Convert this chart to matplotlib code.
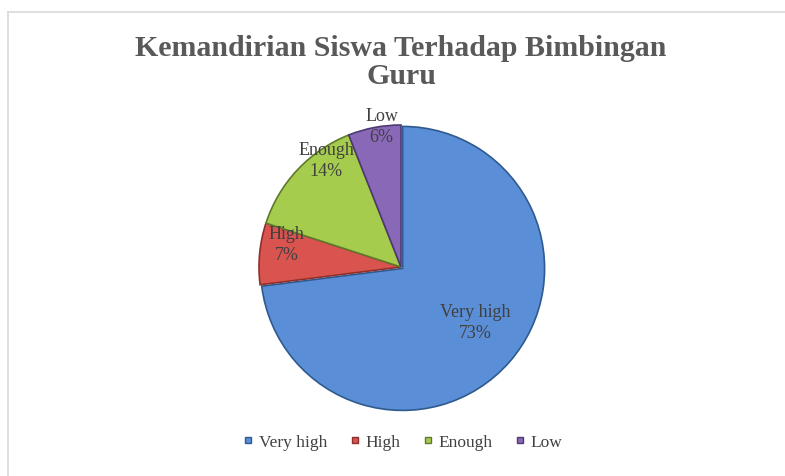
import numpy as np
import matplotlib.pyplot as plt
from matplotlib.lines import Line2D

# data
categories = ["Very high", "High", "Enough", "Low"]
percent = [73, 7, 14, 6]

colors = ["#5A8ED6", "#D9534F", "#A6CC4E", "#8A68B8"]
edges = ["#2F5A8F", "#8E2F2C", "#5F7A2A", "#4E3A70"]

# per-slice label tweaks (distance from center, angle shift in deg)
lab_dist = [0.65, 0.82, 0.92, 1.0]
lab_shift = [5, -6, -12, -3]


def main():
    plt.rcParams["font.family"] = ["Liberation Serif", "DejaVu Serif"]

    fig = plt.figure(figsize=(7.85, 4.77), dpi=100)
    fig.patch.set_facecolor("white")

    # light frame top / left
    fig.add_artist(Line2D([8/785, 1], [1 - 13/477, 1 - 13/477], transform=fig.transFigure,
                          color="#D9D9D9", lw=1.2))
    fig.add_artist(Line2D([8/785, 8/785], [0, 1 - 13/477], transform=fig.transFigure,
                          color="#D9D9D9", lw=1.2))

    # pie axes, centre at (401, 268) px, radius 142 px
    cx, cy, r, half = 401, 268, 142, 152
    ax = fig.add_axes([(cx - half) / 785, (477 - cy - half) / 477, 2 * half / 785, 2 * half / 477])
    lim = half / r
    ax.axis("off")

    wedges, _ = ax.pie(percent, colors=colors, startangle=90, counterclock=False,
                       explode=[0.015, 0, 0, 0], radius=1.0,
                       wedgeprops=dict(linewidth=1.2))
    for w, ec in zip(wedges, edges):
        w.set_edgecolor(ec)
    ax.set_xlim(-lim, lim)
    ax.set_ylim(-lim, lim)
    ax.set_aspect("auto")

    for w, cat, p, d, s in zip(wedges, categories, percent, lab_dist, lab_shift):
        ang = np.deg2rad((w.theta1 + w.theta2) / 2 + s)
        ax.text(d * np.cos(ang), d * np.sin(ang), f"{cat}\n{p}%", ha="center", va="center",
                fontsize=13, color="#404040", linespacing=1.3)

    fig.text(0.511, 1 - 48/477, "Kemandirian Siswa Terhadap Bimbingan", ha="center", va="center",
             fontsize=21.5, fontweight="bold", color="#595959")
    fig.text(0.511, 1 - 76/477, "Guru", ha="center", va="center",
             fontsize=21.5, fontweight="bold", color="#595959")

    handles = [Line2D([], [], marker="s", linestyle="none", markersize=5,
                      markerfacecolor=c, markeredgecolor=e) for c, e in zip(colors, edges)]
    leg = fig.legend(handles, categories, loc="center", bbox_to_anchor=(402/785, 1 - 443/477),
                     ncol=4, frameon=False, fontsize=12.5, handletextpad=0.2, columnspacing=1.2,
                     handlelength=0.8)
    for t in leg.get_texts():
        t.set_color("#404040")

    fig.savefig("out.png", dpi=100)


if __name__ == "__main__":
    main()
